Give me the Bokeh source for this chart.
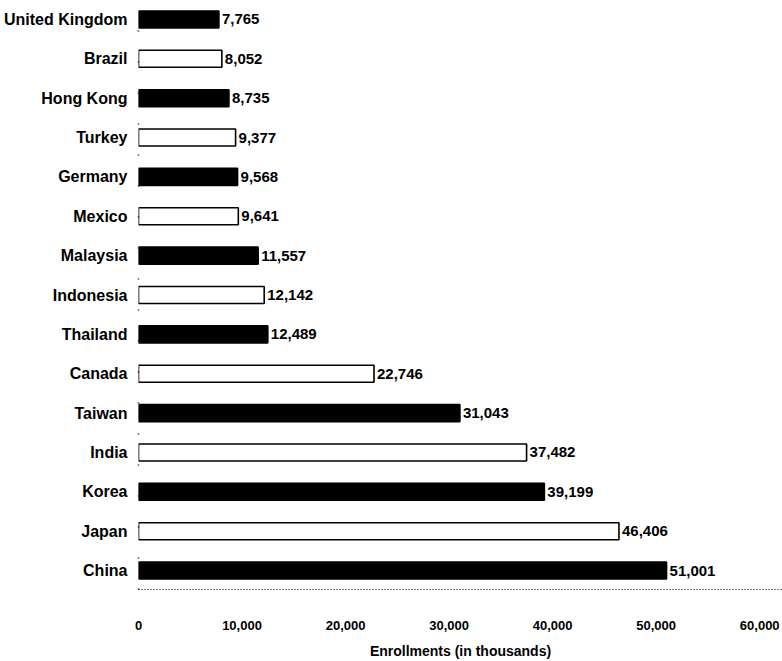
from bokeh.plotting import figure
from bokeh.models import Range1d, FixedTicker, ColumnDataSource, NumeralTickFormatter
from bokeh.embed import file_html
from bokeh.resources import INLINE
from bokeh.core.properties import value

countries = ["China", "Japan", "Korea", "India", "Taiwan", "Canada", "Thailand",
             "Indonesia", "Malaysia", "Mexico", "Germany", "Turkey", "Hong Kong",
             "Brazil", "United Kingdom"]
enrollments = [51001, 46406, 39199, 37482, 31043, 22746, 12489,
               12142, 11557, 9641, 9568, 9377, 8735, 8052, 7765]
x_ticks = [0, 10000, 20000, 30000, 40000, 50000, 60000]

FONT = "Liberation Sans"

ypos = list(range(len(countries)))
fills = ["black" if i % 2 == 0 else "white" for i in ypos]
labels = [f"{v:,}" for v in enrollments]

src = ColumnDataSource(dict(y=ypos, v=enrollments, fill=fills, lab=labels))

p = figure(width=782, height=661, output_backend="svg", toolbar_location=None,
           x_range=Range1d(0, 62200), y_range=Range1d(-0.48, 14.48),
           min_border_left=138, min_border_right=0, min_border_top=0,
           min_border_bottom=71)

p.hbar(y="y", right="v", left=0, height=0.43, fill_color="fill",
       line_color="black", line_width=1.6, source=src)
p.text(x="v", y="y", text="lab", x_offset=3, text_baseline="middle",
       text_align="left", text_font=value(FONT), text_font_style="bold",
       text_font_size="15px", text_color="black", source=src)

p.xgrid.visible = False
p.ygrid.visible = False
p.outline_line_color = None

xa = p.xaxis[0]
xa.ticker = FixedTicker(ticks=x_ticks)
xa.formatter = NumeralTickFormatter(format="0,0")
xa.major_tick_line_color = None
xa.minor_tick_line_color = None
xa.axis_line_color = "black"
xa.axis_line_dash = "1 2"
xa.axis_line_width = 1.2
xa.major_label_standoff = 25
xa.major_label_text_font = FONT
xa.major_label_text_font_style = "bold"
xa.major_label_text_font_size = "13px"
xa.major_label_text_color = "black"
xa.axis_label = "Enrollments (in thousands)"
xa.axis_label_standoff = 10
xa.axis_label_text_font = FONT
xa.axis_label_text_font_style = "bold"
xa.axis_label_text_font_size = "14px"
xa.axis_label_text_color = "black"

ya = p.yaxis[0]
ya.ticker = FixedTicker(ticks=ypos)
ya.major_label_overrides = {i: c for i, c in zip(ypos, countries)}
ya.major_tick_line_color = None
ya.minor_tick_line_color = None
ya.axis_line_color = "black"
ya.axis_line_dash = "1 30"
ya.axis_line_width = 1.5
ya.major_label_standoff = 5
ya.major_label_text_font = FONT
ya.major_label_text_font_style = "bold"
ya.major_label_text_font_size = "16px"
ya.major_label_text_color = "black"

open("out.html", "w").write(file_html(p, INLINE))
